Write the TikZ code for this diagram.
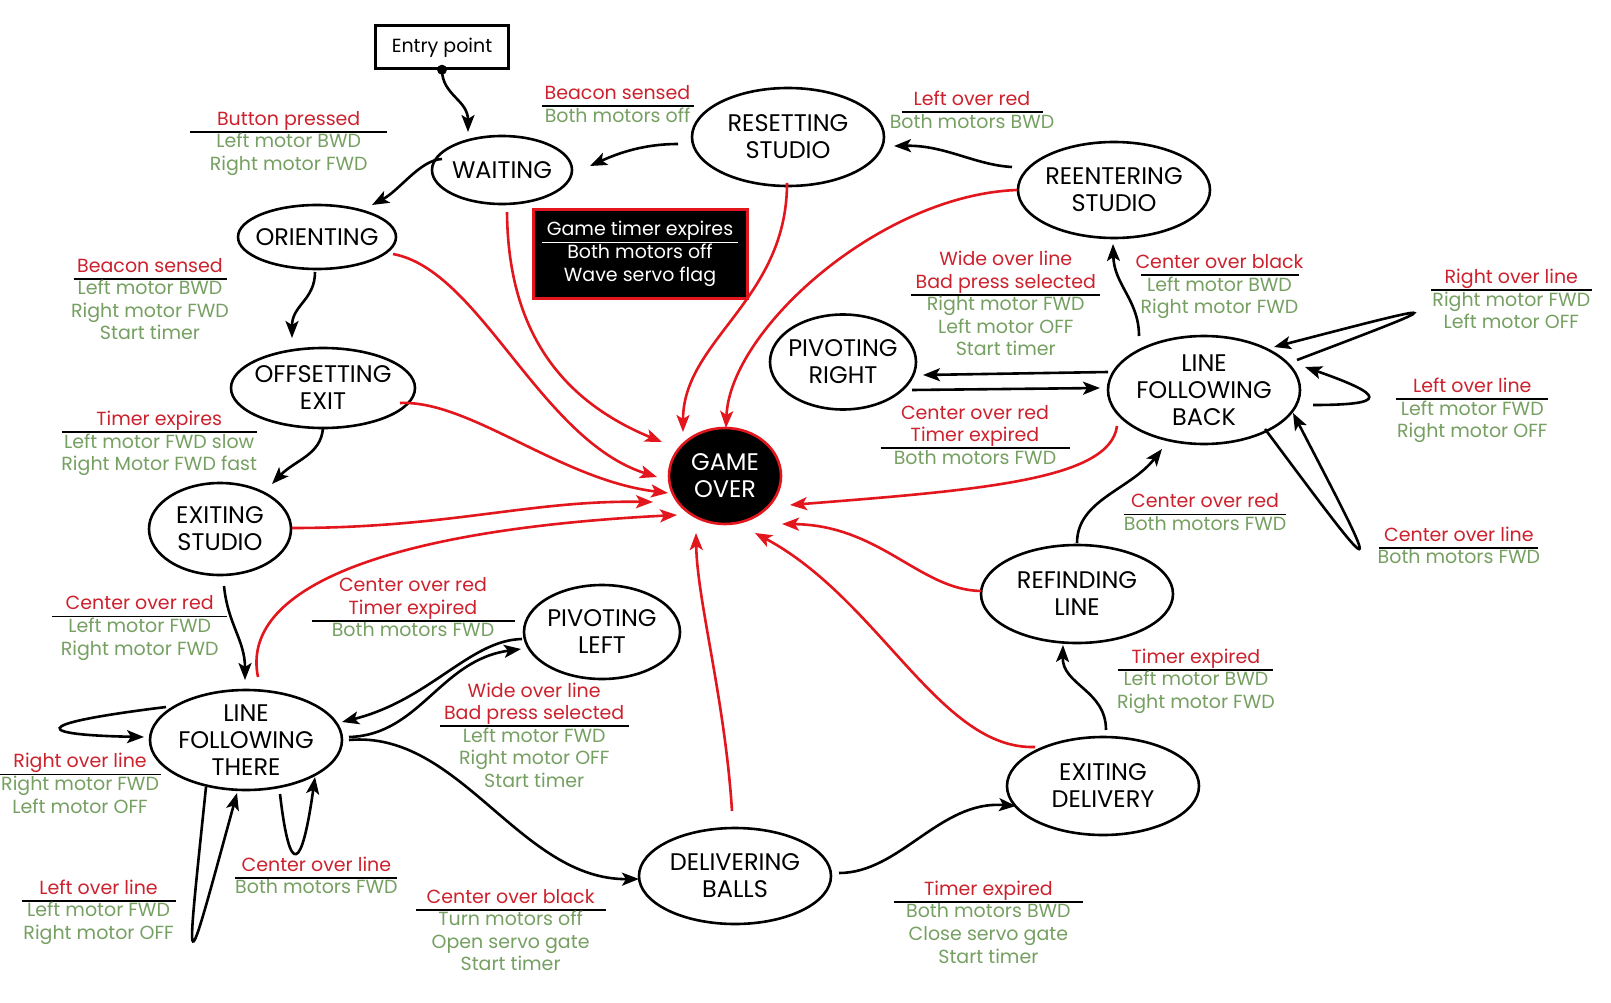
\documentclass[tikz,border=0pt]{standalone}
\usepackage{fontspec}
\setmainfont{Poppins}
\usetikzlibrary{arrows.meta,shapes.geometric}
\definecolor{lred}{RGB}{204,34,46}
\definecolor{lgreen}{RGB}{118,160,98}
\definecolor{ared}{RGB}{226,22,28}
\newcommand\txr[1]{\textcolor{lred}{#1}}
\newcommand\txg[1]{\textcolor{lgreen}{#1}}
\newcommand\txu[2]{\makebox[0pt]{\smash{\rule[-7.5pt]{#1pt}{1.8pt}}}\makebox[0pt]{\textcolor{lred}{#2}}}
\newcommand\mklab[3]{\node[lbl] (#1) at (#2) {\begin{tabular}{@{}c@{}}#3\end{tabular}};}
\newcommand\mkstate[5]{\node[stshape, minimum width=#3pt, minimum height=#4pt, label={[sttext]center:#5}] (#1) at (#2) {};}
\begin{document}
\begin{tikzpicture}[x=1pt,y=-1pt,
  stshape/.style={ellipse, draw, line width=2.6pt, inner sep=0pt},
  sttext/.style={font=\fontsize{24}{27}\selectfont, align=center, inner sep=0pt},
  lbl/.style={font=\fontsize{19}{22.6}\selectfont, inner sep=0pt, yshift=-3pt},
  blk/.style={-{Stealth[length=17pt,width=13pt,inset=4pt]}, line width=2.6pt},
  redc/.style={blk, draw=ared},
]
\useasboundingbox (0,0) rectangle (1611,1003);
\fill[white] (0,0) rectangle (1611,1003);

% states
\node[draw, line width=2.4pt, minimum width=133pt, minimum height=43pt, inner sep=0pt, text height=15pt, text depth=3pt, font=\fontsize{19}{22.6}\selectfont] (entry) at (442,47) {Entry point};
\fill (entry.south) circle[radius=5pt];
\mkstate{waiting}{502,170}{140}{68}{WAITING}
\mkstate{reset}{788,137}{192}{98}{RESETTING\\STUDIO}
\mkstate{reenter}{1114,190}{192}{96}{REENTERING\\STUDIO}
\mkstate{orient}{317,237}{158}{64}{ORIENTING}
\mkstate{offset}{323,388}{184}{80}{OFFSETTING\\EXIT}
\mkstate{exitst}{220,529}{142}{92}{EXITING\\STUDIO}
\mkstate{pivr}{843,362}{146}{95}{PIVOTING\\RIGHT}
\mkstate{lfb}{1204,390}{192}{108}{LINE\\FOLLOWING\\BACK}
\mkstate{refind}{1077,594}{192}{98}{REFINDING\\LINE}
\mkstate{exitdel}{1103,786}{192}{98}{EXITING\\DELIVERY}
\mkstate{deliv}{735,876}{192}{96}{DELIVERING\\BALLS}
\mkstate{pivl}{602,632}{156}{94}{PIVOTING\\LEFT}
\mkstate{lft}{246,740}{192}{100}{LINE\\FOLLOWING\\THERE}
\node[ellipse, fill=black, draw=ared, line width=2.6pt, inner sep=0pt, minimum width=112pt, minimum height=96pt,
  label={[sttext, text=white]center:GAME\\OVER}] (gameover) at (725,476) {};
\node[fill=black, draw=ared, line width=3pt, minimum width=214pt, minimum height=89pt, inner sep=0pt, text=white,
  font=\fontsize{19}{22.6}\selectfont] (timerbox) at (640,254)
  {\begin{tabular}{@{}c@{}}\makebox[0pt]{\smash{\rule[-7.5pt]{196pt}{1.8pt}}}\makebox[0pt]{Game timer expires}\\Both motors off\\Wave servo flag\end{tabular}};

% labels
\mklab{l1}{288.7,140.4}{\txu{197}{Button pressed}\\\txg{Left motor BWD}\\\txg{Right motor FWD}}
\mklab{l2}{617.5,103.3}{\txu{152}{Beacon sensed}\\\txg{Both motors off}}
\mklab{l3}{972,109.4}{\txu{141}{Left over red}\\\txg{Both motors BWD}}
\mklab{l4}{150,298.5}{\txu{153}{Beacon sensed}\\\txg{Left motor BWD}\\\txg{Right motor FWD}\\\txg{Start timer}}
\mklab{l5}{159.2,440.8}{\txu{195}{Timer expires}\\\txg{Left motor FWD slow}\\\txg{Right Motor FWD fast}}
\mklab{l6}{1005.8,303.1}{\txr{Wide over line}\\\txu{189}{Bad press selected}\\\txg{Right motor FWD}\\\txg{Left motor OFF}\\\txg{Start timer}}
\mklab{l7}{1219.5,283.6}{\txu{158}{Center over black}\\\txg{Left motor BWD}\\\txg{Right motor FWD}}
\mklab{l8}{1511.3,298.7}{\txu{161}{Right over line}\\\txg{Right motor FWD}\\\txg{Left motor OFF}}
\mklab{l9}{1472.3,407.6}{\txu{152}{Left over line}\\\txg{Left motor FWD}\\\txg{Right motor OFF}}
\mklab{l10}{975,434.2}{\txr{Center over red}\\\txu{189}{Timer expired}\\\txg{Both motors FWD}}
\mklab{l11}{1205.1,511.6}{\txu{162}{Center over red}\\\txg{Both motors FWD}}
\mklab{l12}{1458.9,545}{\txu{159}{Center over line}\\\txg{Both motors FWD}}
\mklab{l13}{139.7,625}{\txu{175}{Center over red}\\\txg{Left motor FWD}\\\txg{Right motor FWD}}
\mklab{l14}{413,606.5}{\txr{Center over red}\\\txu{203}{Timer expired}\\\txg{Both motors FWD}}
\mklab{l15}{534.2,734.8}{\txr{Wide over line}\\\txu{189}{Bad press selected}\\\txg{Left motor FWD}\\\txg{Right motor OFF}\\\txg{Start timer}}
\mklab{l16}{1195.9,678.1}{\txu{155}{Timer expired}\\\txg{Left motor BWD}\\\txg{Right motor FWD}}
\mklab{l17}{80.1,782.9}{\txu{162}{Right over line}\\\txg{Right motor FWD}\\\txg{Left motor OFF}}
\mklab{l18}{316.4,874.8}{\txu{162}{Center over line}\\\txg{Both motors FWD}}
\mklab{l19}{98.6,909.2}{\txu{154}{Left over line}\\\txg{Left motor FWD}\\\txg{Right motor OFF}}
\mklab{l20}{510.6,929.5}{\txu{190}{Center over black}\\\txg{Turn motors off}\\\txg{Open servo gate}\\\txg{Start timer}}
\mklab{l21}{988.4,921.6}{\txu{189}{Timer expired}\\\txg{Both motors BWD}\\\txg{Close servo gate}\\\txg{Start timer}}

% black connectors
\draw[blk] (entry.south) .. controls (442,95) and (468,100) .. ([shift={(-34,-38)}]waiting.center);
\draw[blk] ([shift={(-60,-11)}]waiting.center) .. controls (420,160) and (400,190) .. ([shift={(55,-32)}]orient.center);
\draw[blk] ([shift={(-110,7)}]reset.center) .. controls (650,144) and (625,150) .. ([shift={(88,-4)}]waiting.center);
\draw[blk] ([shift={(-102,-23)}]reenter.center) .. controls (975,165) and (945,145) .. ([shift={(106,9)}]reset.center);
\draw[blk] ([shift={(-2,35)}]orient.center) .. controls (315,300) and (292,305) .. ([shift={(-31,-50)}]offset.center);
\draw[blk] ([shift={(0,40)}]offset.center) .. controls (321,455) and (295,460) .. ([shift={(52,-45)}]exitst.center);
\draw[blk] ([shift={(4,57)}]exitst.center) .. controls (228,625) and (245,640) .. ([shift={(-1,-60)}]lft.center);
\draw[blk] ([shift={(-80,-33)}]lft.center) .. controls (20,725) and (40,735) .. ([shift={(-102,-3)}]lft.center);
\draw[blk] ([shift={(-40,47)}]lft.center) .. controls (185,990) and (183,990) .. ([shift={(-9,53)}]lft.center);
\draw[blk] ([shift={(34,54)}]lft.center) .. controls (290,880) and (302,870) .. ([shift={(69,37)}]lft.center);
\draw[blk] ([shift={(-80,7)}]pivl.center) .. controls (470,640) and (430,700) .. ([shift={(96,-18)}]lft.center);
\draw[blk] ([shift={(103,-3)}]lft.center) .. controls (420,735) and (440,660) .. ([shift={(-81,17)}]pivl.center);
\draw[blk] ([shift={(103,0)}]lft.center) .. controls (460,730) and (520,880) .. ([shift={(-96,3)}]deliv.center);
\draw[blk] ([shift={(104,-3)}]deliv.center) .. controls (900,873) and (940,800) .. ([shift={(-87,20)}]exitdel.center);
\draw[blk] ([shift={(3,-56)}]exitdel.center) .. controls (1106,690) and (1062,685) .. ([shift={(-14,51)}]refind.center);
\draw[blk] ([shift={(0,-51)}]refind.center) .. controls (1077,500) and (1130,490) .. ([shift={(-42,59)}]lfb.center);
\draw[blk] ([shift={(-65,-54)}]lfb.center) .. controls (1139,300) and (1114,285) .. ([shift={(-1,54)}]reenter.center);
\draw[blk] ([shift={(-96,-18)}]lfb.center) -- ([shift={(80,13)}]pivr.center);
\draw[blk] ([shift={(69,28)}]pivr.center) -- ([shift={(-104,-2)}]lfb.center);
\draw[blk] ([shift={(93,-30)}]lfb.center) .. controls (1455,300) and (1455,300) .. ([shift={(70,-43)}]lfb.center);
\draw[blk] ([shift={(109,15)}]lfb.center) .. controls (1390,405) and (1385,395) .. ([shift={(101,-23)}]lfb.center);
\draw[blk] ([shift={(61,39)}]lfb.center) .. controls (1385,590) and (1385,590) .. ([shift={(89,23)}]lfb.center);

% red connectors to GAME OVER
\draw[redc] ([shift={(76,17)}]orient.center) .. controls (480,270) and (540,440) .. ([shift={(-68,1)}]gameover.center);
\draw[redc] ([shift={(5,42)}]waiting.center) .. controls (508,330) and (560,400) .. ([shift={(-63,-34)}]gameover.center);
\draw[redc] ([shift={(-1,46)}]reset.center) .. controls (787,300) and (683,340) .. ([shift={(-42,-44)}]gameover.center);
\draw[redc] ([shift={(-97,0)}]reenter.center) .. controls (880,195) and (730,330) .. ([shift={(1,-48)}]gameover.center);
\draw[redc] ([shift={(77,15)}]offset.center) .. controls (470,400) and (560,480) .. ([shift={(-57,17)}]gameover.center);
\draw[redc] ([shift={(72,-1)}]exitst.center) .. controls (450,528) and (530,500) .. ([shift={(-72,26)}]gameover.center);
\draw[redc] ([shift={(12,-63)}]lft.center) .. controls (240,590) and (380,530) .. ([shift={(-48,39)}]gameover.center);
\draw[redc] ([shift={(-3,-65)}]deliv.center) .. controls (725,700) and (697,600) .. ([shift={(-29,57)}]gameover.center);
\draw[redc] ([shift={(-87,36)}]lfb.center) .. controls (1110,480) and (980,490) .. ([shift={(65,29)}]gameover.center);
\draw[redc] ([shift={(-96,-3)}]refind.center) .. controls (920,590) and (880,525) .. ([shift={(57,48)}]gameover.center);
\draw[redc] ([shift={(-68,-39)}]exitdel.center) .. controls (940,750) and (880,600) .. ([shift={(30,57)}]gameover.center);
\end{tikzpicture}
\end{document}
